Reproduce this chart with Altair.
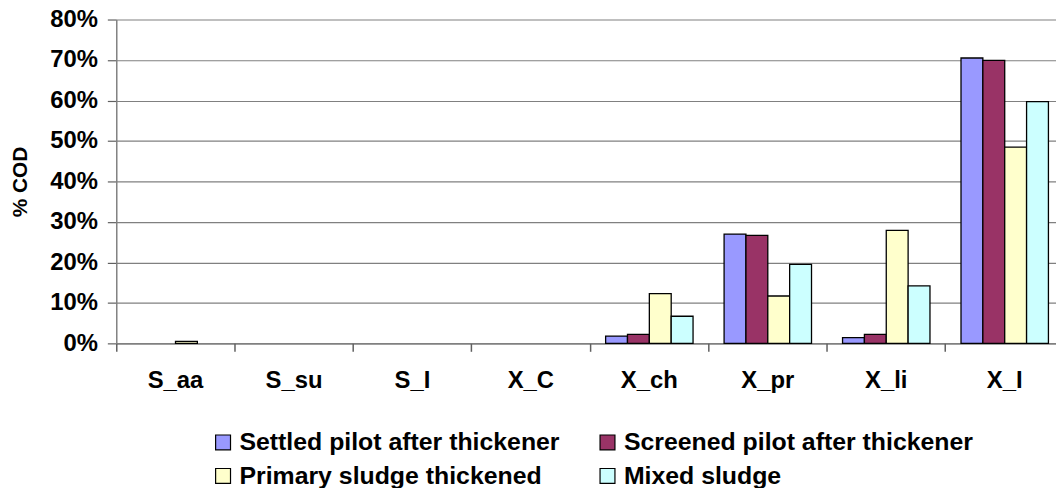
import altair as alt
import pandas as pd

categories = ["S_aa", "S_su", "S_I", "X_C", "X_ch", "X_pr", "X_li", "X_I"]
series = ["Settled pilot after thickener", "Screened pilot after thickener",
          "Primary sludge thickened", "Mixed sludge"]
settled = [0.0, 0.0, 0.0, 0.0, 0.018, 0.270, 0.014, 0.705]
screened = [0.0, 0.0, 0.0, 0.0, 0.022, 0.267, 0.022, 0.699]
primary = [0.005, 0.0, 0.0, 0.0, 0.123, 0.117, 0.279, 0.485]
mixed = [0.0, 0.0, 0.0, 0.0, 0.067, 0.195, 0.142, 0.597]
colors = ["#9999FF", "#993366", "#FFFFCC", "#CCFFFF"]

rows = []
for s, vals in zip(series, [settled, screened, primary, mixed]):
    for c, v in zip(categories, vals):
        rows.append({"category": c, "series": s, "value": v})
df = pd.DataFrame(rows)

FONT = "Liberation Sans"
W = 946
H = 326

xscale = alt.Scale(domain=categories, paddingInner=0, paddingOuter=0, range=[0, 954])

bars = alt.Chart(df).transform_filter("datum.value > 0").mark_bar(
    stroke="black", strokeWidth=1.3
).encode(
    x=alt.X("category:N", scale=xscale, sort=categories,
            axis=alt.Axis(title=None, orient="bottom", ticks=False, tickSize=0,
                          labelAngle=0,
                          labelFont=FONT, labelFontWeight="bold", labelFontSize=24,
                          labelColor="black", labelPadding=25,
                          domainColor="#808080", domainWidth=1.5, grid=False)),
    xOffset=alt.XOffset("series:N", sort=series,
                        scale=alt.Scale(domain=series, paddingInner=0, paddingOuter=0.71)),
    y=alt.Y("value:Q", scale=alt.Scale(domain=[0, 0.8], nice=False),
            axis=alt.Axis(title="% COD", format=".0%", values=[0, .1, .2, .3, .4, .5, .6, .7, .8],
                          titleFont=FONT, titleFontWeight="bold", titleFontSize=21,
                          titleColor="black", titlePadding=19,
                          labelFont=FONT, labelFontWeight="bold", labelFontSize=24,
                          labelColor="black", labelPadding=10,
                          tickSize=9, tickColor="#606060", tickWidth=1.2,
                          domainColor="#808080", domainWidth=1.5,
                          grid=True, gridColor="#808080", gridWidth=1.2)),
    color=alt.Color("series:N", sort=series,
                    scale=alt.Scale(domain=series, range=colors),
                    legend=alt.Legend(title=None, orient="none", legendX=95, legendY=413,
                                      columns=2, direction="horizontal",
                                      symbolType="square", symbolSize=225,
                                      symbolStrokeColor="black", symbolStrokeWidth=1.2,
                                      labelFont=FONT, labelFontWeight="bold",
                                      labelFontSize=25, labelColor="black",
                                      labelLimit=500, columnPadding=35, rowPadding=8,
                                      symbolOffset=0, labelOffset=4)),
)

ticks_layer = alt.Chart(pd.DataFrame({"category": categories})).mark_point(opacity=0).encode(
    x=alt.X("category:N", scale=xscale, sort=categories,
            axis=alt.Axis(title=None, orient="bottom", labels=False, domain=False, grid=False,
                          ticks=True, bandPosition=0, tickSize=8,
                          tickColor="#606060", tickWidth=1.5)),
)

chart = alt.layer(bars, ticks_layer).resolve_axis(x="independent").properties(
    width=W, height=H,
    autosize=alt.AutoSizeParams(type="none"),
    padding={"left": 109, "top": 10, "right": 0, "bottom": 480 - 10 - H},
).configure_view(stroke=None)

chart.save("out.html", embed_options={"renderer": "svg", "actions": False})
